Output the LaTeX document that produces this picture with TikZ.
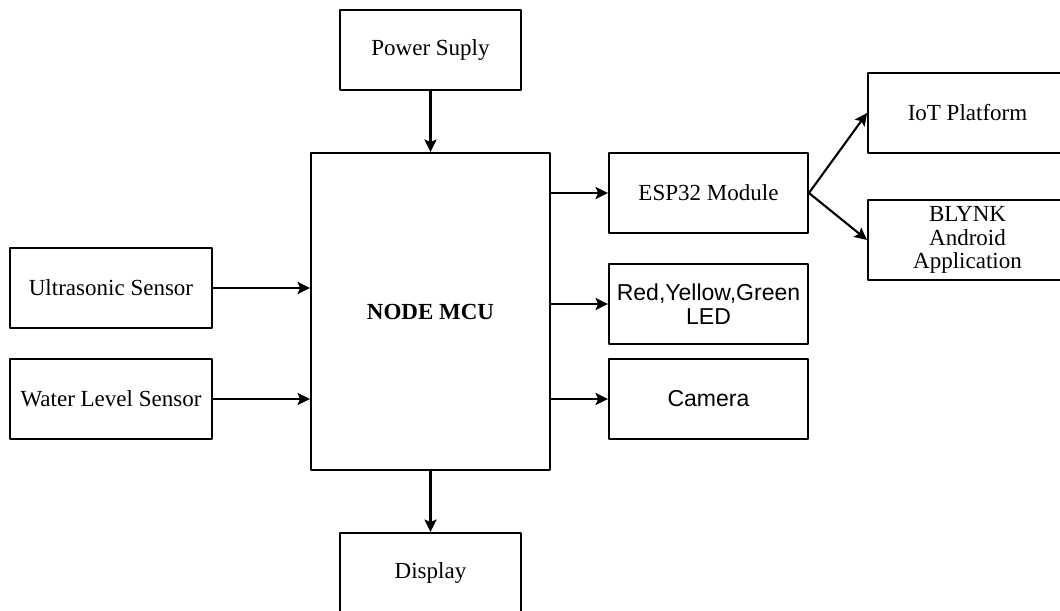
\documentclass[tikz,border=0pt]{standalone}
\usepackage{fontspec}
\setmainfont{Liberation Serif}
\newfontfamily\arialfont{Liberation Sans}
\usetikzlibrary{arrows.meta,positioning,calc}

\begin{document}
\begin{tikzpicture}[x=0.02cm,y=-0.02cm,line join=round,
  box/.style={draw,line width=1.1pt,minimum width=3.98cm,minimum height=1.6cm,align=center,font=\fontsize{13.1}{13.6}\selectfont},
  arr/.style={line width=1.2pt,-{Stealth[length=0.25cm,width=0.24cm,inset=0.05cm]}}]
  \useasboundingbox (0,0) rectangle (1060,611);
  \clip (0,0) rectangle (1060,611);
  \node[box,minimum width=3.62cm] (power) at (430.5,50) {Power Suply};
  \node[box,minimum width=4.78cm,minimum height=6.34cm,font=\fontsize{13.1}{13.6}\selectfont\bfseries] (mcu) at (430.5,311.5) {NODE MCU};
  \node[box,minimum width=4.04cm] (ultra) at (111,288) {Ultrasonic Sensor};
  \node[box,minimum width=4.04cm,inner sep=1pt] (water) at (111,399) {Water Level Sensor};
  \node[box] (esp) at (708.5,193) {ESP32 Module};
  \node[box,font=\fontsize{13.1}{13.8}\selectfont\arialfont] (led) at (708.5,304) {Red,Yellow,Green\\LED};
  \node[box,font=\fontsize{13.1}{13.6}\selectfont\arialfont] (camera) at (708.5,399) {Camera};
  \node[box] (iot) at (967.5,113) {IoT Platform};
  \node[box] (blynk) at (967.5,240) {BLYNK\\Android\\Application};
  \node[box,minimum width=3.62cm] (display) at (430.5,573) {Display};
  \draw[arr] (power) -- (mcu);
  \draw[arr] (ultra.east) -- (ultra.east -| mcu.west);
  \draw[arr] (water.east) -- (water.east -| mcu.west);
  \draw[arr] (esp.west -| mcu.east) -- (esp.west);
  \draw[arr] (led.west -| mcu.east) -- (led.west);
  \draw[arr] (camera.west -| mcu.east) -- (camera.west);
  \draw[arr] (esp.east) -- (iot.west);
  \draw[arr] (esp.east) -- (blynk.west);
  \draw[arr] (mcu) -- (display);
\end{tikzpicture}
\end{document}
